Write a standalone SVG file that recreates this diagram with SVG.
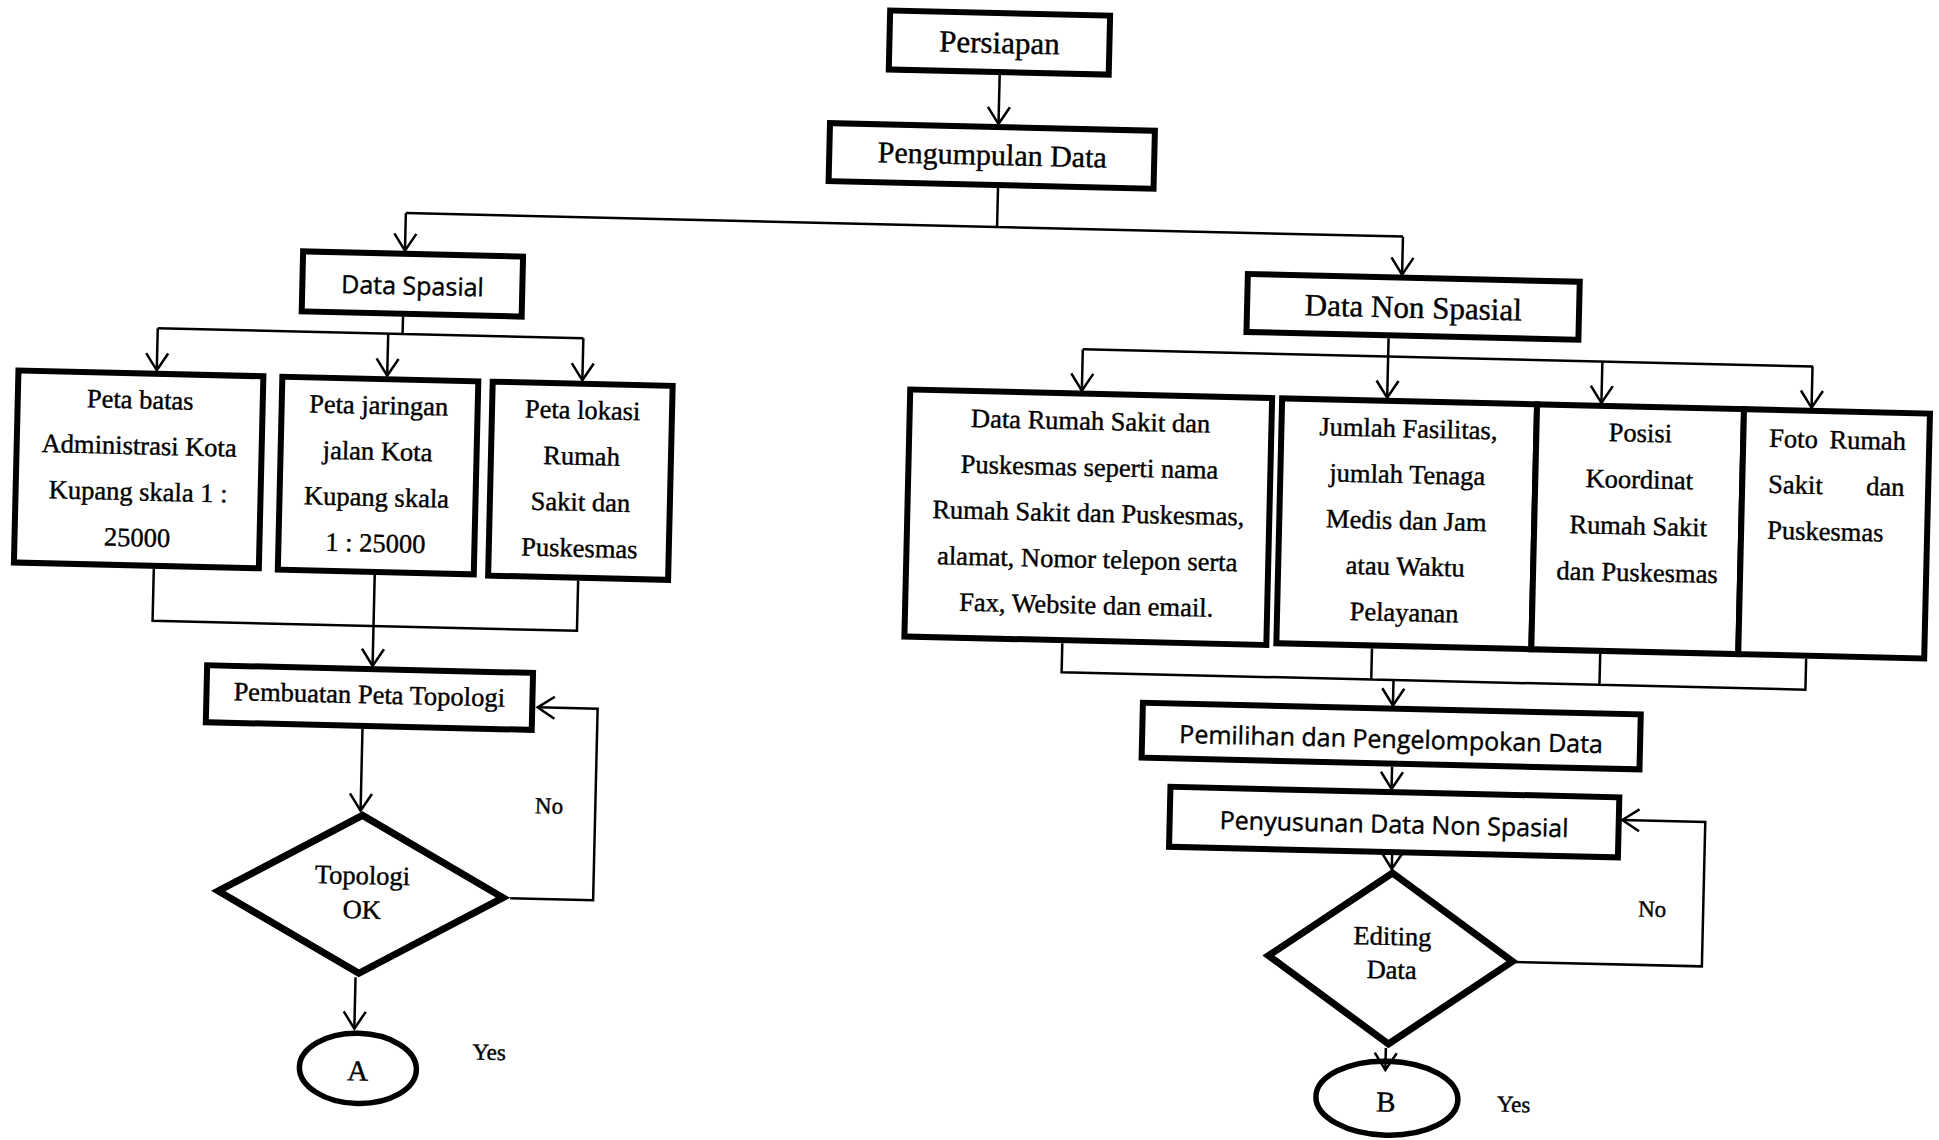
<svg xmlns="http://www.w3.org/2000/svg" width="1939" height="1140" viewBox="0 0 1939 1140">
<defs>
<style>
.box{fill:#fff;stroke:#000;stroke-width:6}
.dia{fill:#fff;stroke:#000;stroke-width:7;stroke-linejoin:miter;stroke-miterlimit:10}
.ell{fill:#fff;stroke:#000;stroke-width:5.5}
.con{fill:none;stroke:#000;stroke-width:2.5}
.arr{marker-end:url(#ah)}
text{fill:#000;stroke:#000;stroke-width:0.4px}
.s{font-family:"Liberation Serif","Times New Roman",serif;font-size:26.5px;text-anchor:middle}
.ss{font-family:"Open Sans","Liberation Sans",sans-serif;font-size:25px;text-anchor:middle}
.big{font-size:31px}
.mid{font-size:30px}
.lab{font-size:23px}
.ltr{font-size:29px}
.l{text-anchor:start}
</style>
<marker id="ah" markerUnits="userSpaceOnUse" orient="auto" overflow="visible" markerWidth="1" markerHeight="1" refX="0" refY="0"><path d="M-17,-11 L0,0 L-17,11" fill="none" stroke="#000" stroke-width="2.5"/></marker>
</defs>
<rect width="1939" height="1140" fill="#fff"/>
<g transform="rotate(1.35 970 570)">
<g id="persiapan"><rect class="box" x="877" y="12.5" width="220" height="59"/><text class="s big" x="987" y="52.5">Persiapan</text></g>
<g id="pengumpulan-data"><rect class="box" x="819.5" y="126.5" width="325" height="58"/><text class="s mid" x="982.5" y="164.5">Pengumpulan Data</text></g>
<g id="data-spasial"><rect class="box" x="295.8" y="267.2" width="220" height="60"/><text class="ss" x="406" y="308">Data Spasial</text></g>
<g id="peta-batas"><rect class="box" x="14" y="393" width="245" height="192"/>
<text class="s" x="136.5" y="428">Peta batas</text><text class="s" x="136.5" y="474">Administrasi Kota</text><text class="s" x="136.5" y="520">Kupang skala 1 :</text><text class="s" x="136.5" y="566">25000</text></g>
<g id="peta-jaringan"><rect class="box" x="278" y="393" width="196" height="193"/>
<text class="s" x="375" y="428">Peta jaringan</text><text class="s" x="375" y="474">jalan Kota</text><text class="s" x="375" y="520">Kupang skala</text><text class="s" x="375" y="566">1 : 25000</text></g>
<g id="peta-lokasi"><rect class="box" x="488.4" y="393" width="180" height="194"/>
<text class="s" x="579" y="428">Peta lokasi</text><text class="s" x="579" y="474">Rumah</text><text class="s" x="579" y="520">Sakit dan</text><text class="s" x="579" y="566">Puskesmas</text></g>
<g id="pembuatan-peta-topologi"><rect class="box" x="209.6" y="683.2" width="326" height="57"/><text class="s" x="372.4" y="717.5">Pembuatan Peta Topologi</text></g>
<g id="topologi-ok"><polygon class="dia" points="368.5,829.6 511,908.6 368.5,987.6 226,908.6"/><text class="s" x="369.9" y="898.4">Topologi</text><text class="s" x="369.9" y="932.7">OK</text></g>
<g id="connector-a"><ellipse class="ell" cx="369.8" cy="1082.7" rx="58.5" ry="35.1"/><text class="s ltr" x="369.8" y="1094.8">A</text></g>
<g id="data-non-spasial"><rect class="box" x="1240.8" y="267.5" width="332" height="58"/><text class="s big" x="1407" y="307.5">Data Non Spasial</text></g>
<g id="data-rumah-sakit"><rect class="box" x="906" y="391" width="362" height="247"/>
<text class="s" x="1087" y="427">Data Rumah Sakit dan</text><text class="s" x="1087" y="473">Puskesmas seperti nama</text><text class="s" x="1087" y="519">Rumah Sakit dan Puskesmas,</text><text class="s" x="1087" y="565">alamat, Nomor telepon serta</text><text class="s" x="1087" y="611">Fax, Website dan email.</text></g>
<g id="jumlah-fasilitas"><rect class="box" x="1278" y="391" width="255" height="245"/>
<text class="s" x="1405" y="427">Jumlah Fasilitas,</text><text class="s" x="1405" y="473">jumlah Tenaga</text><text class="s" x="1405" y="519">Medis dan Jam</text><text class="s" x="1405" y="565">atau Waktu</text><text class="s" x="1405" y="611">Pelayanan</text></g>
<g id="posisi-koordinat"><rect class="box" x="1533" y="391" width="207" height="245"/>
<text class="s" x="1637" y="426">Posisi</text><text class="s" x="1637" y="472.5">Koordinat</text><text class="s" x="1637" y="519">Rumah Sakit</text><text class="s" x="1637" y="565.5">dan Puskesmas</text></g>
<g id="foto-rumah-sakit"><rect class="box" x="1740" y="391" width="186" height="245"/>
<text class="s l" x="1766" y="428" style="word-spacing:5px">Foto Rumah</text><text class="s l" x="1766" y="474" style="word-spacing:37px">Sakit dan</text><text class="s l" x="1766" y="520">Puskesmas</text></g>
<g id="pemilihan-data"><rect class="box" x="1146" y="698.6" width="498" height="55"/><text class="ss" x="1395" y="738">Pemilihan dan Pengelompokan Data</text></g>
<g id="penyusunan-data"><rect class="box" x="1175.5" y="782" width="449" height="60"/><text class="ss" x="1400" y="823">Penyusunan Data Non Spasial</text></g>
<g id="editing-data"><polygon class="dia" points="1399.5,863 1521.5,948.5 1399.5,1034 1277.5,948.5"/><text class="s" x="1401" y="935">Editing</text><text class="s" x="1401" y="968.5">Data</text></g>
<g id="connector-b"><ellipse class="ell" cx="1399.2" cy="1088.2" rx="71" ry="37"/><text class="s ltr" x="1398.3" y="1101.9">B</text></g>
<g id="connectors">
<path class="con arr" d="M988,74 V123.5"/>
<path class="con" d="M989,187 V226.5 M397.6,226.5 H1395"/>
<path class="con arr" d="M397.6,226.5 V264"/>
<path class="con arr" d="M1395,226.5 V264.5"/>
<path class="con" d="M397.2,330 V347.5 M152.3,347.5 H578"/>
<path class="con arr" d="M152.3,347.5 V389.5"/>
<path class="con arr" d="M382.8,347.5 V389.5"/>
<path class="con arr" d="M578,347.5 V389.5"/>
<path class="con" d="M154,588 V640 H578.5 V590"/>
<path class="con arr" d="M375,589 V680"/>
<path class="con arr" d="M366.4,743 V825"/>
<path class="con arr" d="M365.3,991.6 V1043"/>
<path class="con arr" d="M518,909 H601 V717.5 H541"/>
<path class="con arr" d="M1383,328.5 V388"/>
<path class="con" d="M1077.6,346.7 H1808"/>
<path class="con arr" d="M1077.6,346.7 V388"/>
<path class="con arr" d="M1597.3,346.7 V388"/>
<path class="con arr" d="M1807.5,346.7 V388"/>
<path class="con" d="M1064,641 V670 H1808 V639 M1373.7,639 V670 M1602,639 V670"/>
<path class="con arr" d="M1396,670 V695.5"/>
<path class="con arr" d="M1396.6,756.6 V779"/>
<path class="con arr" d="M1398.7,845 V859"/>
<path class="con arr" d="M1397,1038 V1060"/>
<path class="con arr" d="M1521.5,949 H1711 V804.5 H1628"/>
</g>
<g id="labels">
<text class="s lab" x="554.7" y="823.4">No</text>
<text class="s lab" x="500.6" y="1071">Yes</text>
<text class="s lab" x="1660" y="900.6">No</text>
<text class="s lab" x="1526" y="1099">Yes</text>
</g>
</g>
</svg>
